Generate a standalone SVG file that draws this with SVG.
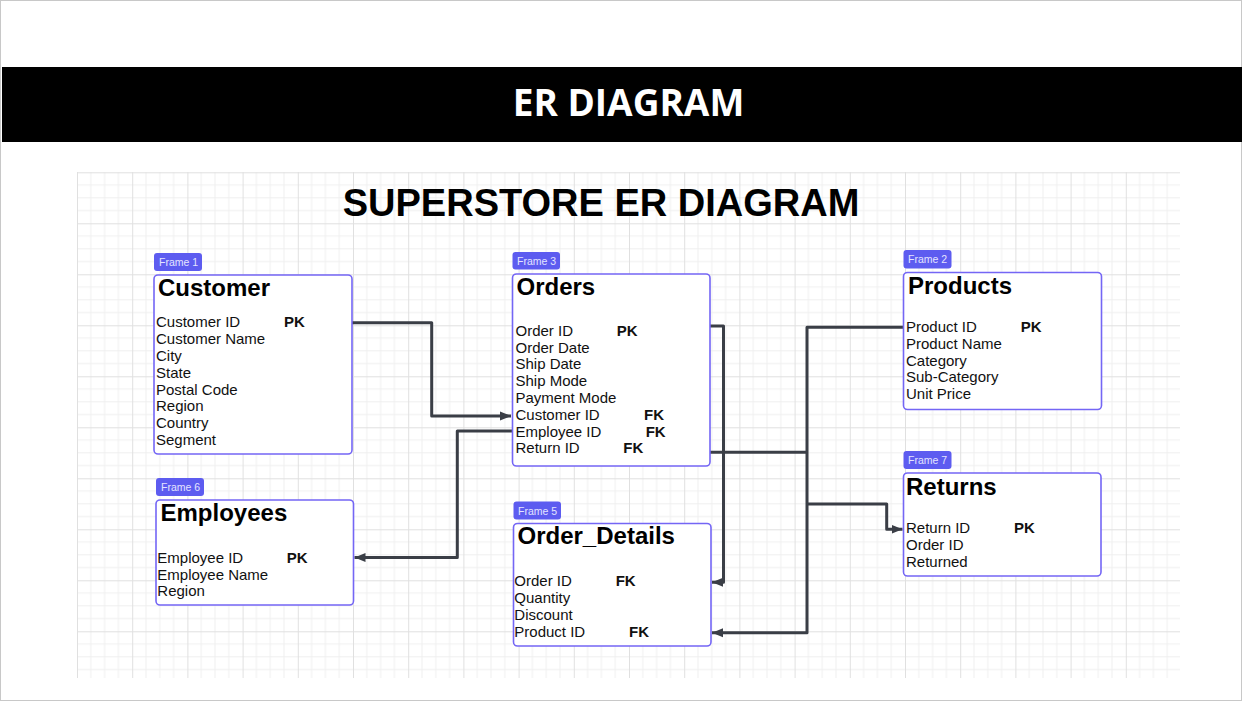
<svg xmlns="http://www.w3.org/2000/svg" width="1242" height="701" viewBox="0 0 1242 701">
<defs>
<style>
.box{fill:#fff;stroke:#7466f5;stroke-width:1.6}
.tag{fill:#5d5cf0}
.tagt{font-family:"Liberation Sans",Arial,sans-serif;font-size:10.5px;fill:#e4e4ff}
.ttl{font-family:"Liberation Sans",Arial,sans-serif;font-size:24px;font-weight:bold;fill:#000}
.att{font-family:"Liberation Sans",Arial,sans-serif;font-size:15px;fill:#111}
.key{font-family:"Liberation Sans",Arial,sans-serif;font-size:15px;font-weight:bold;fill:#111}
.con{fill:none;stroke:#3a3e46;stroke-width:3;stroke-linejoin:round}
</style>
<pattern id="grid" x="77" y="172.3" width="55.2" height="51" patternUnits="userSpaceOnUse">
<path d="M13.8,0V51M27.6,0V51M41.4,0V51M0,12.75H55.2M0,25.5H55.2M0,38.25H55.2" stroke="#efefef" stroke-width="1" fill="none"/>
<path d="M0.5,0V51M0,0.5H55.2" stroke="#e0e0e0" stroke-width="1" fill="none"/>
</pattern>
<marker id="arr" markerUnits="userSpaceOnUse" markerWidth="12" markerHeight="10" refX="11" refY="5" orient="auto">
<path d="M0,0.5L11,5L0,9.5z" fill="#3a3e46"/>
</marker>
</defs>
<rect x="0" y="0" width="1242" height="701" fill="#fff"/>
<rect x="0.5" y="0.5" width="1241" height="700" fill="none" stroke="#c8c8c8" stroke-width="1"/>
<rect x="2" y="67" width="1240" height="75" fill="#000"/>
<text x="628.5" y="116" text-anchor="middle" font-family="'Open Sans','Liberation Sans',sans-serif" font-size="37" font-weight="bold" fill="#fff">ER DIAGRAM</text>
<rect x="77" y="172" width="1103" height="506" fill="url(#grid)"/>
<text x="601" y="216" text-anchor="middle" font-family="'Liberation Sans',Arial,sans-serif" font-size="38" font-weight="bold" fill="#000">SUPERSTORE ER DIAGRAM</text>

<g id="connectors">
<path class="con" d="M352,322.7H431.7V416H511" marker-end="url(#arr)"/>
<path class="con" d="M512,431H457.3V557.5H354.5" marker-end="url(#arr)"/>
<path class="con" d="M710,326H723.5V582.3H712" marker-end="url(#arr)"/>
<path class="con" d="M710,452.3H807"/>
<path class="con" d="M903.5,327.3H807V632.7H712" marker-end="url(#arr)"/>
<path class="con" d="M807,504H886.7V529.3H902.5" marker-end="url(#arr)"/>
</g>

<g id="customer">
<rect class="tag" x="154" y="253" width="48" height="18" rx="3"/>
<text class="tagt" x="159" y="266">Frame 1</text>
<rect class="box" x="154" y="275" width="198" height="179" rx="4"/>
<text class="ttl" x="158" y="296">Customer</text>
<text class="att" x="156" y="327.3">Customer ID</text>
<text class="key" x="284" y="327.3">PK</text>
<text class="att" x="156" y="344.1">Customer Name</text>
<text class="att" x="156" y="360.9">City</text>
<text class="att" x="156" y="377.7">State</text>
<text class="att" x="156" y="394.5">Postal Code</text>
<text class="att" x="156" y="411.3">Region</text>
<text class="att" x="156" y="428.1">Country</text>
<text class="att" x="156" y="444.9">Segment</text>
</g>

<g id="orders">
<rect class="tag" x="512.5" y="252" width="47.5" height="17.5" rx="3"/>
<text class="tagt" x="517" y="264.5">Frame 3</text>
<rect class="box" x="512.5" y="274" width="197.5" height="192" rx="4"/>
<text class="ttl" x="516.5" y="295">Orders</text>
<text class="att" x="515.5" y="335.7">Order ID</text>
<text class="key" x="616.7" y="335.7">PK</text>
<text class="att" x="515.5" y="352.5">Order Date</text>
<text class="att" x="515.5" y="369.3">Ship Date</text>
<text class="att" x="515.5" y="386.1">Ship Mode</text>
<text class="att" x="515.5" y="402.9">Payment Mode</text>
<text class="att" x="515.5" y="419.7">Customer ID</text>
<text class="key" x="644" y="419.7">FK</text>
<text class="att" x="515.5" y="436.5">Employee ID</text>
<text class="key" x="645.7" y="436.5">FK</text>
<text class="att" x="515.5" y="453.3">Return ID</text>
<text class="key" x="623.3" y="453.3">FK</text>
</g>

<g id="products">
<rect class="tag" x="903.5" y="250" width="48" height="18.5" rx="3"/>
<text class="tagt" x="908" y="263">Frame 2</text>
<rect class="box" x="903.5" y="272.5" width="198" height="137" rx="4"/>
<text class="ttl" x="908" y="293.7">Products</text>
<text class="att" x="906" y="332">Product ID</text>
<text class="key" x="1020.7" y="332">PK</text>
<text class="att" x="906" y="348.8">Product Name</text>
<text class="att" x="906" y="365.6">Category</text>
<text class="att" x="906" y="382.4">Sub-Category</text>
<text class="att" x="906" y="399.2">Unit Price</text>
</g>

<g id="employees">
<rect class="tag" x="156" y="478" width="48" height="18" rx="3"/>
<text class="tagt" x="161" y="491">Frame 6</text>
<rect class="box" x="156" y="500" width="197.5" height="105" rx="4"/>
<text class="ttl" x="160.5" y="520.7">Employees</text>
<text class="att" x="157.3" y="562.7">Employee ID</text>
<text class="key" x="286.7" y="562.7">PK</text>
<text class="att" x="157.3" y="579.5">Employee Name</text>
<text class="att" x="157.3" y="596.3">Region</text>
</g>

<g id="order_details">
<rect class="tag" x="513.5" y="501.5" width="47.5" height="18" rx="3"/>
<text class="tagt" x="518" y="514.5">Frame 5</text>
<rect class="box" x="513.5" y="523.5" width="197.5" height="122.5" rx="4"/>
<text class="ttl" x="517.5" y="543.7">Order_Details</text>
<text class="att" x="514.3" y="586.3">Order ID</text>
<text class="key" x="615.7" y="586.3">FK</text>
<text class="att" x="514.3" y="603.1">Quantity</text>
<text class="att" x="514.3" y="619.9">Discount</text>
<text class="att" x="514.3" y="636.7">Product ID</text>
<text class="key" x="629" y="636.7">FK</text>
</g>

<g id="returns">
<rect class="tag" x="903.5" y="451" width="48" height="18" rx="3"/>
<text class="tagt" x="908" y="464">Frame 7</text>
<rect class="box" x="903.5" y="473" width="197.5" height="103" rx="4"/>
<text class="ttl" x="906" y="495">Returns</text>
<text class="att" x="906" y="533">Return ID</text>
<text class="key" x="1014" y="533">PK</text>
<text class="att" x="906" y="549.8">Order ID</text>
<text class="att" x="906" y="566.6">Returned</text>
</g>
</svg>
